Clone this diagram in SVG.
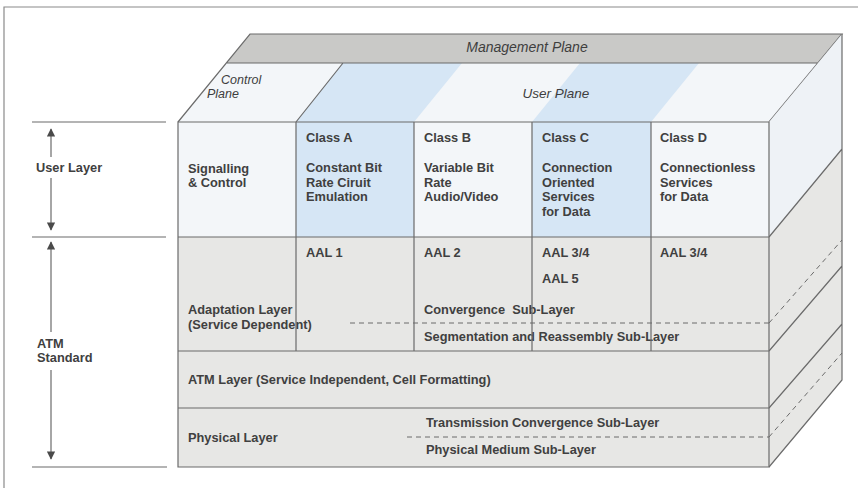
<svg xmlns="http://www.w3.org/2000/svg" width="858" height="488" viewBox="0 0 858 488">
<style>
.ln{stroke:#6b6b6b;stroke-width:1.2;fill:none}
.dash{stroke:#6b6b6b;stroke-width:1;fill:none;stroke-dasharray:5 4}
.gray{fill:#e7e7e5}
.mgmt{fill:#c9c9c7}
.blue{fill:#d6e6f5}
.light{fill:#f3f6f9}
.side{fill:#eef2f6}
.t{font-family:"Liberation Sans",Arial,sans-serif;font-size:12.8px;font-weight:bold;fill:#404040}
.it{font-family:"Liberation Sans",Arial,sans-serif;font-style:italic;fill:#3e3e3e}
.frame{stroke:#8a8a8a;stroke-width:1.2;fill:none}
</style>
<defs>
<marker id="ah" viewBox="0 0 10 10" refX="9" refY="5" markerWidth="7" markerHeight="7" orient="auto-start-reverse">
<path d="M0,0 L10,5 L0,10 z" fill="#4a4a4a"/>
</marker>
</defs>
<rect width="858" height="488" fill="#ffffff"/>
<path class="frame" d="M4,488 L4,7 L858,7"/>

<g id="top-face">
<polygon class="light" points="178,122 250,34 842,34 769,122"/>
<polygon class="mgmt" points="227,63 250,34 842,34 818,63"/>
<polygon class="blue" points="296,122 343,63 462,63 414,122"/>
<polygon class="blue" points="532,122 580,63 699,63 651,122"/>
<path class="ln" d="M178,122 L250,34 L842,34 L769,122 M227,63 L818,63 M296,122 L343,63"/>
</g>

<g id="management-plane">
<text class="it" x="527" y="52" font-size="14" text-anchor="middle">Management Plane</text>
</g>
<g id="control-plane">
<text class="it" x="221" y="84" font-size="12.5">Control<tspan x="207" dy="14.2">Plane</tspan></text>
</g>
<g id="user-plane">
<text class="it" x="556" y="98" font-size="13.5" text-anchor="middle">User Plane</text>
</g>

<g id="side-face">
<polygon class="side" points="769,122 842,34 842,149 769,237"/>
<polygon class="gray" points="769,237 842,149 842,380 769,467"/>
<path class="ln" d="M842,34 L842,380 L769,467 M769,237 L842,149 M769,351 L842,266 M769,408 L842,324"/>
<path class="dash" d="M769,323 L842,240 M769,437 L842,353"/>
</g>

<g id="user-layer">
<rect class="light" x="178" y="122" width="591" height="115"/>
<rect class="blue" x="296" y="122" width="118" height="115"/>
<rect class="blue" x="532" y="122" width="119" height="115"/>
</g>

<g id="adaptation-layer">
<rect class="gray" x="178" y="237" width="591" height="114"/>
<path class="dash" d="M350,323 L769,323"/>
<text class="t" x="188" y="314">Adaptation Layer<tspan x="188" dy="15">(Service Dependent)</tspan></text>
<text class="t" x="424" y="314" xml:space="preserve">Convergence  Sub-Layer</text>
<text class="t" x="424" y="341">Segmentation and Reassembly Sub-Layer</text>
</g>

<g id="atm-layer">
<rect class="gray" x="178" y="351" width="591" height="57"/>
<text class="t" x="188" y="384">ATM Layer (Service Independent, Cell Formatting)</text>
</g>

<g id="physical-layer">
<rect class="gray" x="178" y="408" width="591" height="59"/>
<path class="dash" d="M407,437 L769,437"/>
<text class="t" x="188" y="442">Physical Layer</text>
<text class="t" x="426" y="427">Transmission Convergence Sub-Layer</text>
<text class="t" x="426" y="454">Physical Medium Sub-Layer</text>
</g>

<g id="grid">
<path class="ln" d="M178,122 L769,122 L769,467 L178,467 Z M178,237 L769,237 M178,351 L769,351 M178,408 L769,408 M296,122 L296,351 M414,122 L414,351 M532,122 L532,351 M651,122 L651,351"/>
</g>

<g id="signalling-control">
<text class="t" x="188" y="172.5">Signalling<tspan x="188" dy="14.6">&amp; Control</tspan></text>
</g>
<g id="class-a">
<text class="t" x="306" y="142">Class A</text>
<text class="t" x="306" y="172">Constant Bit<tspan x="306" dy="14.7">Rate Ciruit</tspan><tspan x="306" dy="14.7">Emulation</tspan></text>
<text class="t" x="306" y="257">AAL 1</text>
</g>
<g id="class-b">
<text class="t" x="424" y="142">Class B</text>
<text class="t" x="424" y="172">Variable Bit<tspan x="424" dy="14.7">Rate</tspan><tspan x="424" dy="14.7">Audio/Video</tspan></text>
<text class="t" x="424" y="257">AAL 2</text>
</g>
<g id="class-c">
<text class="t" x="542" y="142">Class C</text>
<text class="t" x="542" y="172">Connection<tspan x="542" dy="14.7">Oriented</tspan><tspan x="542" dy="14.7">Services</tspan><tspan x="542" dy="14.7">for Data</tspan></text>
<text class="t" x="542" y="257">AAL 3/4</text>
<text class="t" x="542" y="283">AAL 5</text>
</g>
<g id="class-d">
<text class="t" x="660" y="142">Class D</text>
<text class="t" x="660" y="172">Connectionless<tspan x="660" dy="14.7">Services</tspan><tspan x="660" dy="14.7">for Data</tspan></text>
<text class="t" x="660" y="257">AAL 3/4</text>
</g>

<g id="user-layer-label">
<text class="t" x="36" y="172">User Layer</text>
</g>
<g id="atm-standard-label">
<text class="t" x="37" y="347.5">ATM<tspan x="37" dy="14.6">Standard</tspan></text>
</g>

<g id="connectors">
<path class="ln" d="M32,122 L166,122 M32,237 L166,237 M32,467 L167,467"/>
<path class="ln" d="M51,157 L51,129" marker-end="url(#ah)"/>
<path class="ln" d="M51,178 L51,230" marker-end="url(#ah)"/>
<path class="ln" d="M51,332 L51,242" marker-end="url(#ah)"/>
<path class="ln" d="M51,370 L51,459" marker-end="url(#ah)"/>
</g>
</svg>
